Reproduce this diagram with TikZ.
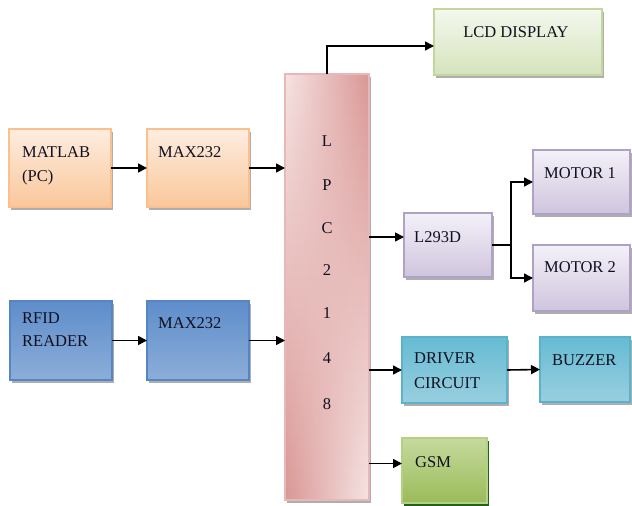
\documentclass[tikz,border=0pt]{standalone}
\usepackage{fontspec}
\setmainfont{Liberation Serif}
\usetikzlibrary{arrows.meta,shadows}
\definecolor{orT}{HTML}{FDEDE0}
\definecolor{orD}{HTML}{FAC79A}
\definecolor{orB}{HTML}{FAC08F}
\definecolor{blT}{HTML}{5E8DCB}
\definecolor{blM}{HTML}{4A7DBE}
\definecolor{blD}{HTML}{8CAED9}
\definecolor{blB}{HTML}{5585C2}
\definecolor{grT}{HTML}{F4F8EE}
\definecolor{grD}{HTML}{D6E3BC}
\definecolor{grB}{HTML}{C3D69B}
\definecolor{puT}{HTML}{F4F1F8}
\definecolor{puD}{HTML}{CFC4DE}
\definecolor{puB}{HTML}{B2A1C7}
\definecolor{teT}{HTML}{66BBD3}
\definecolor{teM}{HTML}{45A6C4}
\definecolor{teD}{HTML}{98CFE0}
\definecolor{teB}{HTML}{5BB3CB}
\definecolor{gsT}{HTML}{C5DA9E}
\definecolor{gsD}{HTML}{9BBB59}
\definecolor{gsB}{HTML}{B5CF85}
\definecolor{lpL}{HTML}{F5E4E3}
\definecolor{lpD}{HTML}{D99694}
\definecolor{lpB}{HTML}{E6B9B8}
\definecolor{txtc}{HTML}{101020}
\tikzset{
  box/.style={rectangle, line width=1.2pt, inner sep=0pt, outer sep=0pt,
    drop shadow={shadow xshift=2pt, shadow yshift=-2.5pt, opacity=0.45, fill=black!70}},
  orangebox/.style={box, draw=orB, top color=orT, bottom color=orD},
  bluebox/.style={box, draw=blB, top color=blT, middle color=blM, bottom color=blD},
  greenbox/.style={box, draw=grB, top color=grT, bottom color=grD},
  purplebox/.style={box, draw=puB, top color=puT, bottom color=puD},
  tealbox/.style={box, draw=teB, top color=teT, middle color=teM, bottom color=teD},
  gsmbox/.style={box, draw=gsB, top color=gsT, bottom color=gsD,
    drop shadow={shadow xshift=2pt, shadow yshift=-3pt, opacity=0.8, fill=green!30!black}},
  lpcbox/.style={box, draw=lpB, fill=lpL},
  txt/.style={anchor=base west, inner sep=0pt, font=\fontsize{16.5}{24}\selectfont, text=txtc},
  lpctxt/.style={anchor=base, inner sep=0pt, font=\fontsize{16.5}{20}\selectfont, text=txtc},
  arr/.style={-{Triangle[length=9pt,width=9pt]}, line width=1.6pt, black},
  ln/.style={line width=1.6pt, black}
}
\begin{document}
\begin{tikzpicture}[x=1pt,y=-1pt]
\useasboundingbox (0,0) rectangle (632,506);
% boxes
\node[orangebox, minimum width=102pt, minimum height=78pt] (matlab) at (60,168) {};
\node[orangebox, minimum width=102pt, minimum height=78pt] (max1) at (198,168) {};
\node[bluebox, minimum width=102pt, minimum height=79pt] (rfid) at (61,340.5) {};
\node[bluebox, minimum width=102pt, minimum height=79pt] (max2) at (198,340.5) {};
\node[lpcbox, minimum width=84pt, minimum height=426pt] (lpc) at (327,287) {};
\foreach \i in {0,...,39}{
  \pgfmathsetmacro{\pa}{100*(\i+0.5)/40}
  \pgfmathsetmacro{\pb}{100-\pa}
  \shade[left color=lpD!\pa!lpL, right color=lpD!\pb!lpL]
    (285,{74+\i*10.65}) rectangle (369,{74+(\i+1)*10.65+0.3});
}
\draw[lpB, line width=1.2pt] (lpc.south west) rectangle (lpc.north east);
\node[greenbox, minimum width=168pt, minimum height=66pt] (lcd) at (518,42) {};
\node[purplebox, minimum width=88pt, minimum height=64pt] (l293) at (448,245) {};
\node[purplebox, minimum width=97pt, minimum height=64pt] (m1) at (581.5,182) {};
\node[purplebox, minimum width=97pt, minimum height=66pt] (m2) at (581.5,278) {};
\node[tealbox, minimum width=105pt, minimum height=66pt] (drv) at (454.5,370) {};
\node[tealbox, minimum width=90pt, minimum height=65pt] (buz) at (585,369.5) {};
\node[gsmbox, minimum width=85pt, minimum height=65pt] (gsm) at (444.5,470.5) {};
% texts
\node[txt] (t1) at (22,157) {MATLAB};
\node[txt] (t2) at (22,181) {(PC)};
\node[txt] (t3) at (158,157) {MAX232};
\node[txt] (t4) at (22,323) {RFID};
\node[txt] (t5) at (22,346) {READER};
\node[txt] (t6) at (158,328) {MAX232};
\node[txt, anchor=base] (t7) at (516,37) {LCD DISPLAY};
\node[txt] (t8) at (414,242) {L293D};
\node[txt] (t9) at (544,178) {MOTOR 1};
\node[txt] (t10) at (544,272) {MOTOR 2};
\node[txt] (t11) at (414,363) {DRIVER};
\node[txt] (t12) at (414,388) {CIRCUIT};
\node[txt] (t13) at (552,365) {BUZZER};
\node[txt] (t14) at (415,467) {GSM};
\node[lpctxt] (c1) at (327,146) {L};
\node[lpctxt] (c2) at (327,190) {P};
\node[lpctxt] (c3) at (327,233) {C};
\node[lpctxt] (c4) at (327,275) {2};
\node[lpctxt] (c5) at (327,318) {1};
\node[lpctxt] (c6) at (327,363) {4};
\node[lpctxt] (c7) at (327,409) {8};
% connectors
\draw[arr] (matlab.east) -- (max1.west);
\draw[arr] (max1.east) -- (max1.east -| lpc.west);
\draw[arr] (rfid.east) -- (max2.west);
\draw[arr] (max2.east) -- (max2.east -| lpc.west);
\draw[arr] (lpc.north) -- ([yshift=-4pt]lpc.north |- lcd.west) -- ([yshift=-4pt]lcd.west);
\draw[arr] ([yshift=8pt]l293.west -| lpc.east) -- ([yshift=8pt]l293.west);
\draw[ln] (l293.east) -- ++(19,0) coordinate (sp);
\draw[arr] (sp) |- (m1.west);
\draw[arr] (sp) |- (m2.west);
\draw[arr] (drv.west -| lpc.east) -- (drv.west);
\draw[arr] (drv.east) -- (buz.west);
\draw[arr] ([yshift=7pt]gsm.west -| lpc.east) -- ([yshift=7pt]gsm.west);
\end{tikzpicture}
\end{document}
